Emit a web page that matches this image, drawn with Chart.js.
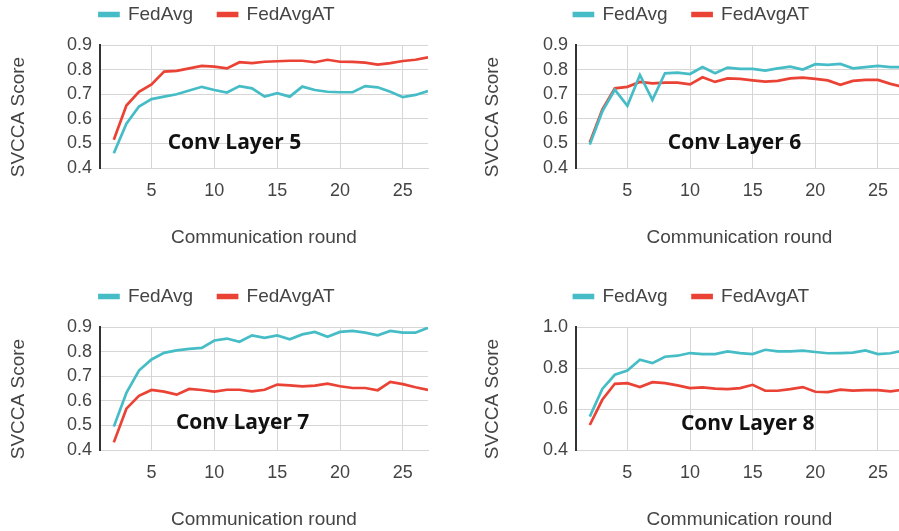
<!DOCTYPE html>
<html>
<head>
<meta charset="utf-8">
<script src="https://cdn.jsdelivr.net/npm/chart.js@4.4.1/dist/chart.umd.min.js"></script>
<style>
  html, body { margin: 0; padding: 0; background: #fff; overflow: hidden; }
  body { width: 899px; height: 531px; position: relative; }
  canvas { position: absolute; }
</style>
</head>
<body>
<canvas id="c5" width="434" height="285" style="left:0px;top:-20px"></canvas>
<canvas id="c6" width="483" height="285" style="left:450px;top:-20px"></canvas>
<canvas id="c7" width="434" height="285" style="left:0px;top:262px"></canvas>
<canvas id="c8" width="483" height="285" style="left:450px;top:262px"></canvas>
<script>
// communication rounds
var rounds = [2, 3, 4, 5, 6, 7, 8, 9, 10, 11, 12, 13, 14, 15, 16, 17, 18, 19, 20, 21, 22, 23, 24, 25, 26, 27];
var xTicks = [5, 10, 15, 20, 25];
var seriesNames = ['FedAvg', 'FedAvgAT'];

var layer5FedAvg   = [0.46, 0.58, 0.65, 0.68, 0.69, 0.70, 0.715, 0.73, 0.717, 0.707, 0.733, 0.724, 0.69, 0.704, 0.69, 0.731, 0.717, 0.71, 0.708, 0.708, 0.733, 0.728, 0.71, 0.688, 0.697, 0.713];
var layer5FedAvgAT = [0.515, 0.654, 0.71, 0.74, 0.792, 0.795, 0.805, 0.815, 0.812, 0.805, 0.83, 0.826, 0.832, 0.834, 0.836, 0.836, 0.83, 0.84, 0.832, 0.831, 0.828, 0.82, 0.826, 0.835, 0.84, 0.85];

var layer6FedAvg   = [0.495, 0.63, 0.718, 0.653, 0.778, 0.677, 0.785, 0.788, 0.782, 0.81, 0.785, 0.808, 0.803, 0.803, 0.796, 0.805, 0.812, 0.80, 0.822, 0.819, 0.823, 0.805, 0.81, 0.815, 0.81, 0.81];
var layer6FedAvgAT = [0.504, 0.637, 0.724, 0.73, 0.75, 0.744, 0.747, 0.747, 0.74, 0.769, 0.75, 0.764, 0.762, 0.756, 0.751, 0.754, 0.764, 0.767, 0.762, 0.756, 0.738, 0.754, 0.758, 0.758, 0.742, 0.73];

var layer7FedAvg   = [0.495, 0.632, 0.723, 0.768, 0.795, 0.805, 0.811, 0.815, 0.845, 0.853, 0.84, 0.866, 0.856, 0.866, 0.85, 0.87, 0.88, 0.86, 0.88, 0.884, 0.877, 0.866, 0.884, 0.877, 0.877, 0.897];
var layer7FedAvgAT = [0.431, 0.568, 0.62, 0.644, 0.637, 0.625, 0.648, 0.644, 0.637, 0.645, 0.645, 0.638, 0.645, 0.666, 0.663, 0.659, 0.662, 0.67, 0.659, 0.652, 0.652, 0.643, 0.677, 0.668, 0.655, 0.644];

var layer8FedAvg   = [0.563, 0.698, 0.767, 0.788, 0.84, 0.824, 0.855, 0.86, 0.873, 0.868, 0.868, 0.881, 0.873, 0.868, 0.889, 0.881, 0.881, 0.885, 0.878, 0.872, 0.873, 0.875, 0.886, 0.868, 0.872, 0.885];
var layer8FedAvgAT = [0.522, 0.645, 0.723, 0.726, 0.707, 0.731, 0.726, 0.715, 0.702, 0.705, 0.699, 0.697, 0.702, 0.718, 0.689, 0.689, 0.697, 0.707, 0.684, 0.682, 0.694, 0.69, 0.692, 0.692, 0.686, 0.694];

var TEAL = '#46bdc6';
var RED = '#ea4335';
var TEXT = '#444';
var GRID = '#d6d6d6';

// pushes the plot down below the legend
var legendSpace = {
  id: 'legendSpace',
  beforeInit: function (chart) {
    var fit = chart.legend.fit;
    chart.legend.fit = function () {
      fit.call(this);
      this.height = 65;
    };
  }
};

// "Conv Layer N" label inside the plot
var layerLabel = {
  id: 'layerLabel',
  afterDatasetsDraw: function (chart, args, opts) {
    var ctx = chart.ctx;
    ctx.save();
    ctx.font = 'bold 21px "Open Sans"';
    ctx.fillStyle = '#111';
    ctx.textAlign = 'center';
    ctx.textBaseline = 'middle';
    ctx.fillText(opts.text, chart.scales.x.getPixelForValue(opts.x), chart.scales.y.getPixelForValue(opts.y));
    ctx.restore();
  }
};

function points(vals) {
  return vals.map(function (v, i) { return {x: rounds[i], y: v}; });
}

function makeChart(id, avg, avgAT, opt) {
  var ds = function (name, vals, col) {
    return {
      label: name, data: points(vals),
      borderColor: col, backgroundColor: col,
      borderWidth: 2.7, pointRadius: 0, tension: 0
    };
  };
  new Chart(document.getElementById(id), {
    type: 'line',
    data: { datasets: [ds(seriesNames[0], avg, TEAL), ds(seriesNames[1], avgAT, RED)] },
    plugins: [legendSpace, layerLabel],
    options: {
      responsive: false,
      animation: false,
      devicePixelRatio: 1,
      layout: { padding: { left: opt.pad, right: opt.pad, top: 0, bottom: 0 } },
      plugins: {
        tooltip: { enabled: false },
        legend: {
          position: 'top',
          labels: {
            color: TEXT, font: { family: '"Liberation Sans", Arial, sans-serif', size: 19 },
            boxWidth: 19, boxHeight: 3, padding: 25
          }
        },
        layerLabel: { text: opt.label, x: opt.lx, y: opt.ly }
      },
      scales: {
        x: {
          type: 'linear', min: 0.9, max: 27,
          afterBuildTicks: function (s) { s.ticks = xTicks.map(function (v) { return {value: v}; }); },
          afterFit: function (s) { s.height = 97; },
          grid: { color: GRID, drawTicks: false },
          border: { color: GRID, width: 1 },
          ticks: { color: TEXT, padding: 12, font: { family: '"Liberation Sans", Arial, sans-serif', size: 18 }, maxRotation: 0 },
          title: {
            display: true, text: 'Communication round', color: TEXT,
            font: { family: '"Liberation Sans", Arial, sans-serif', size: 19 },
            padding: { top: 0, bottom: 15.6 }
          }
        },
        y: {
          min: 0.4, max: opt.ymax,
          afterFit: function (s) { s.width = opt.yw; },
          grid: { color: GRID, drawTicks: false },
          border: { color: '#333', width: 2 },
          ticks: {
            stepSize: opt.step, color: TEXT, padding: 8,
            font: { family: '"Liberation Sans", Arial, sans-serif', size: 18 },
            callback: function (v) { return v.toFixed(1); }
          },
          title: {
            display: true, text: 'SVCCA Score    ', color: TEXT,
            font: { family: '"Liberation Sans", Arial, sans-serif', size: 19 },
            padding: { top: 1, bottom: 0 }
          }
        }
      }
    }
  });
}

makeChart('c5', layer5FedAvg, layer5FedAvgAT, {pad: 6, yw: 94, ymax: 0.9, step: 0.1, label: 'Conv Layer 5', lx: 11.6, ly: 0.502});
makeChart('c6', layer6FedAvg, layer6FedAvgAT, {pad: 30, yw: 96, ymax: 0.9, step: 0.1, label: 'Conv Layer 6', lx: 13.55, ly: 0.50});
makeChart('c7', layer7FedAvg, layer7FedAvgAT, {pad: 6, yw: 94, ymax: 0.9, step: 0.1, label: 'Conv Layer 7', lx: 12.25, ly: 0.509});
makeChart('c8', layer8FedAvg, layer8FedAvgAT, {pad: 30, yw: 96, ymax: 1.0, step: 0.2, label: 'Conv Layer 8', lx: 14.6, ly: 0.526});
</script>
</body>
</html>
